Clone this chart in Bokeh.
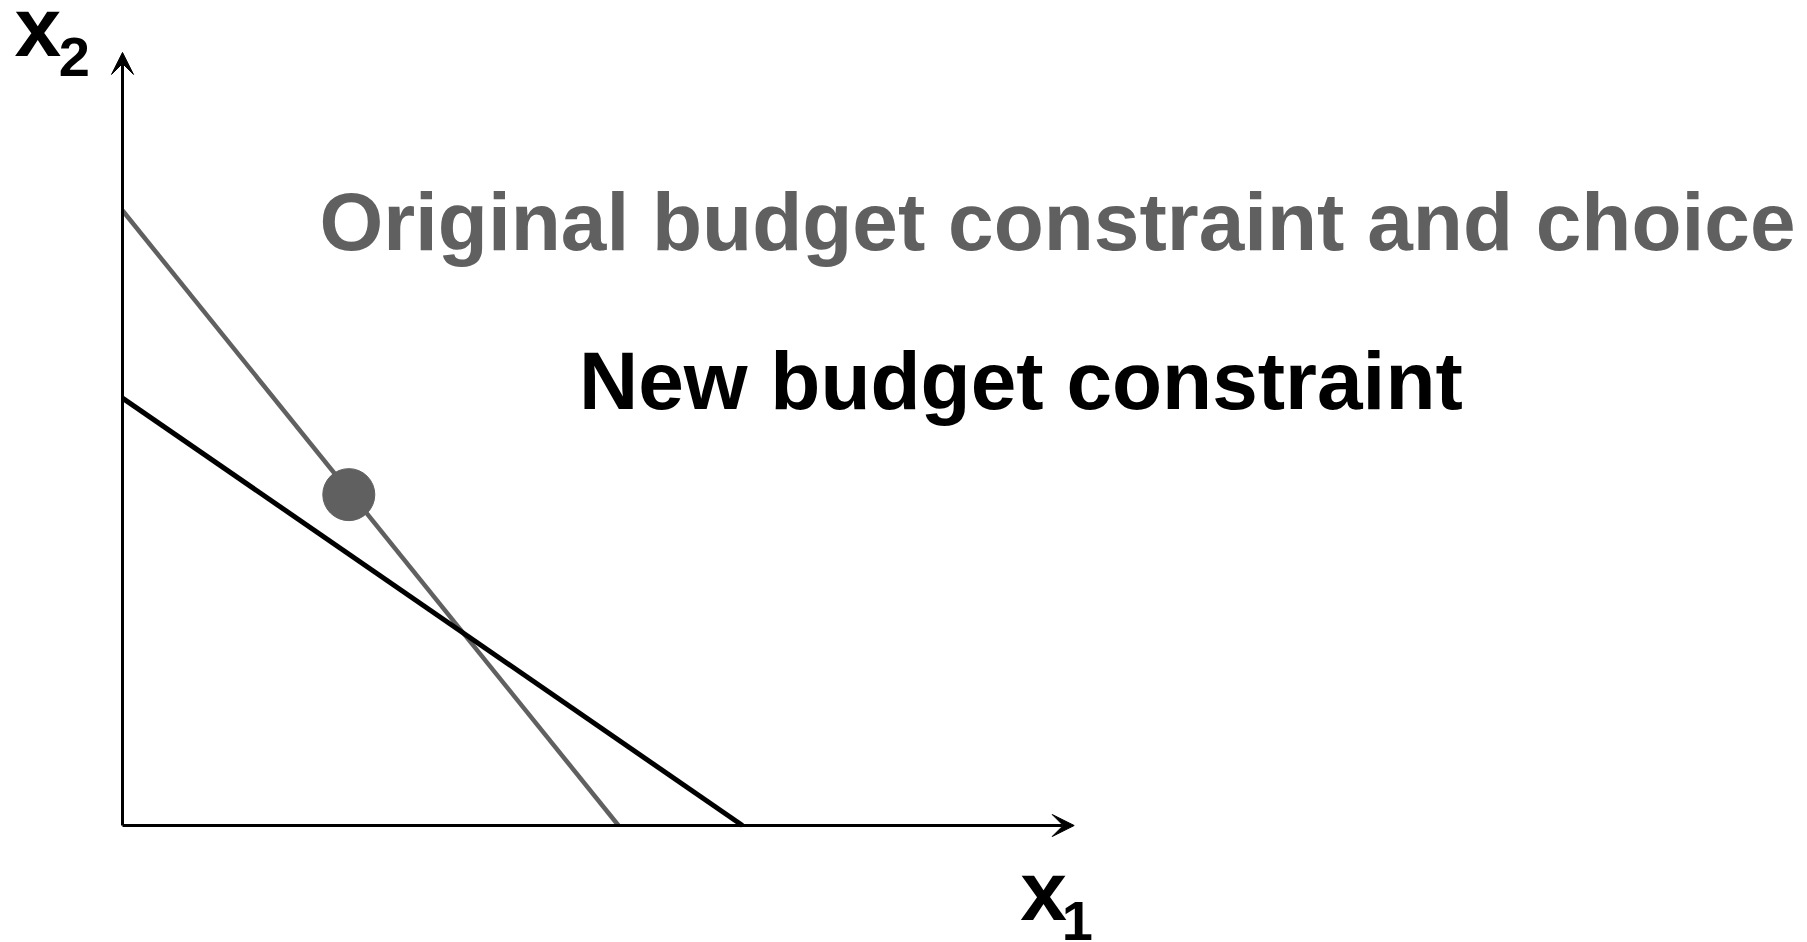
from bokeh.plotting import figure
from bokeh.models import Range1d, Arrow, VeeHead
from bokeh.core.properties import value
from bokeh.embed import file_html
from bokeh.resources import INLINE

# Data (diagram units)
orig_x1 = [0, 8.0]     # original budget line: x1 intercept 8
orig_x2 = [10.0, 0]    # x2 intercept 10
new_x1 = [0, 10.0]     # new budget line: x1 intercept 10
new_x2 = [6.95, 0]     # x2 intercept ~7
choice_x1 = [3.65]
choice_x2 = [5.38]
axis_x1_max = 15.35
axis_x2_max = 12.57

labels = ["Original budget constraint and choice", "New budget constraint"]

W, H = 1807, 942
XS, YS = 62.0, 61.5          # px per unit
OX, OY = 122.0, 117.0        # origin in figure px (from left, from bottom)

p = figure(width=W, height=H, output_backend="svg", toolbar_location=None,
           x_range=Range1d(-OX / XS, (W - OX) / XS),
           y_range=Range1d(-OY / YS, (H - OY) / YS),
           min_border=0, outline_line_color=None)
p.axis.visible = False
p.grid.visible = False
p.background_fill_color = "white"
p.border_fill_color = "white"

GRAY = "#606060"
FONT = value("Liberation Sans")

# axes with arrows
p.add_layout(Arrow(x_start=0, y_start=0, x_end=axis_x1_max, y_end=0,
                   line_color="black", line_width=3,
                   end=VeeHead(size=22, fill_color="black", line_color="black", line_width=1)))
p.add_layout(Arrow(x_start=0, y_start=0, x_end=0, y_end=axis_x2_max,
                   line_color="black", line_width=3,
                   end=VeeHead(size=22, fill_color="black", line_color="black", line_width=1)))

# budget lines
p.line(orig_x1, orig_x2, line_color=GRAY, line_width=4.5)
p.line(new_x1, new_x2, line_color="black", line_width=5)

# choice
p.scatter(choice_x1, choice_x2, size=52, fill_color=GRAY, line_color=GRAY, line_width=1)

# text labels
p.text(x=[15.08], y=[9.82], text=[labels[0]], text_color=GRAY,
       text_font=FONT, text_font_style="bold",
       text_font_size="82px", text_align="center", text_baseline="alphabetic")
p.text(x=[14.49], y=[7.24], text=[labels[1]], text_color="black",
       text_font=FONT, text_font_style="bold",
       text_font_size="82px", text_align="center", text_baseline="alphabetic")

# axis labels
p.text(x=[-1.74], y=[12.99], text=["x"], text_color="black",
       text_font=FONT, text_font_style="bold",
       text_font_size="84px", text_align="left", text_baseline="alphabetic")
p.text(x=[-1.03], y=[12.49], text=["2"], text_color="black",
       text_font=FONT, text_font_style="bold",
       text_font_size="56px", text_align="left", text_baseline="alphabetic")
p.text(x=[14.48], y=[-1.073], text=["x"], text_color="black",
       text_font=FONT, text_font_style="bold",
       text_font_size="84px", text_align="left", text_baseline="alphabetic")
p.text(x=[15.15], y=[-1.56], text=["1"], text_color="black",
       text_font=FONT, text_font_style="bold",
       text_font_size="56px", text_align="left", text_baseline="alphabetic")

open("out.html", "w").write(file_html(p, INLINE))
